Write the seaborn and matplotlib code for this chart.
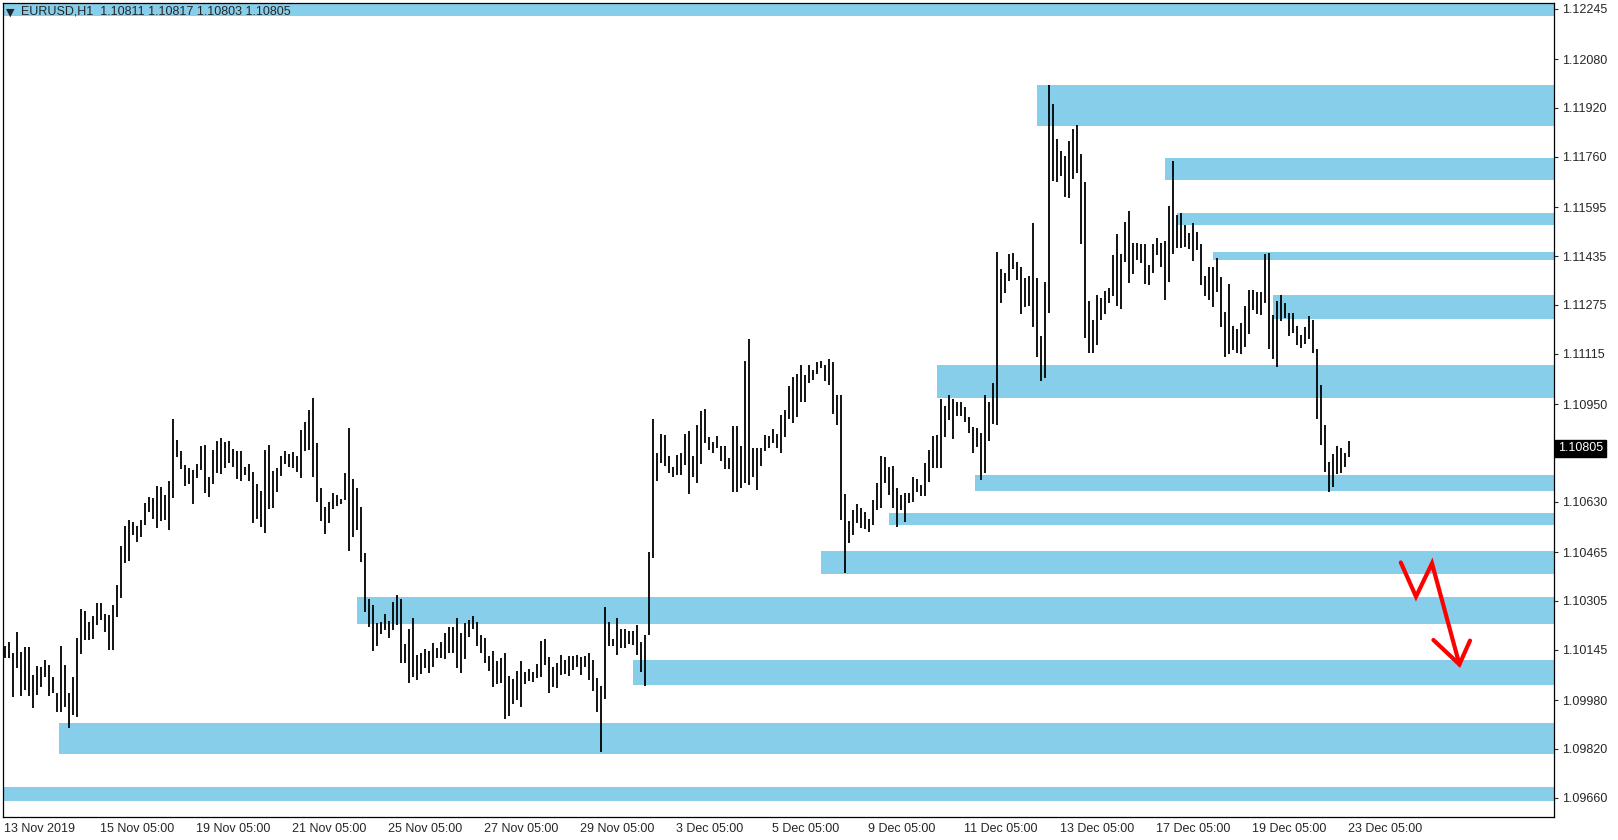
import matplotlib
matplotlib.use("Agg")
import matplotlib.pyplot as plt
import matplotlib.transforms as mtransforms
import seaborn as sns
import pandas as pd

# prices are kept in pips above this level
BASE = 1.09

# 2-hour bars, one row = one trading day (12 bars)
bar_high = [
    115.7, 117.1, 113.3, 120.4, 113.9, 115.5, 115.5, 106.2, 109.3, 108.9, 111.1, 109.5,
    105.7, 100.4, 115.7, 109.5, 100.4, 105.7, 118.4, 127.8, 127.3, 123.7, 125.5, 129.9,
    129.9, 126.2, 125.9, 129.1, 135.7, 148.5, 155.0, 157.0, 156.4, 155.0, 157.0, 162.5,
    164.6, 164.1, 168.1, 167.7, 165.2, 169.8, 190.1, 183.2, 179.6, 175.0, 173.9, 173.4,
    175.2, 181.2, 181.6, 171.0, 179.9, 183.0, 183.8, 182.7, 182.9, 180.3, 179.6, 179.6,
    174.5, 175.3, 172.8, 168.8, 166.6, 179.9, 181.6, 173.1, 173.9, 178.0, 179.6, 178.6,
    179.2, 178.0, 186.5, 189.0, 193.0, 196.9, 182.1, 167.4, 161.2, 162.8, 165.7, 165.2,
    164.0, 172.3, 187.0, 170.6, 167.4, 161.2, 146.1, 131.0, 129.2, 123.2, 123.7, 126.2,
    123.9, 130.1, 132.5, 131.0, 116.4, 121.3, 124.8, 112.8, 113.3, 114.7, 114.1, 116.6,
    115.2, 117.2, 119.9, 121.8, 122.1, 124.9, 119.9, 123.2, 124.2, 125.5, 123.7, 119.3,
    118.2, 112.6, 114.1, 110.9, 111.7, 113.3, 105.9, 104.8, 107.7, 110.9, 107.2, 108.1,
    107.3, 109.8, 117.5, 118.0, 112.2, 108.7, 110.3, 112.8, 111.1, 112.5, 112.4, 112.8,
    112.0, 112.4, 113.5, 111.1, 105.1, 102.6, 128.4, 123.5, 117.9, 125.0, 121.2, 121.3,
    120.6, 120.6, 122.6, 117.1, 119.3, 146.6, 190.1, 179.0, 185.2, 184.8, 178.0, 174.5,
    178.3, 178.8, 185.2, 186.3, 178.0, 188.1, 192.8, 193.4, 184.3, 182.7, 184.5, 181.4,
    181.2, 177.2, 187.8, 187.8, 181.2, 209.1, 216.3, 180.7, 180.5, 180.7, 184.8, 184.6,
    186.7, 185.2, 191.4, 193.0, 200.9, 203.9, 204.8, 207.8, 204.5, 207.8, 206.1, 208.9,
    209.2, 207.8, 209.7, 208.9, 198.0, 198.0, 165.5, 156.7, 160.3, 162.2, 160.8, 159.5,
    157.3, 163.5, 169.0, 178.0, 177.7, 174.5, 174.7, 167.4, 165.2, 165.7, 166.0, 171.0,
    170.3, 168.5, 175.6, 180.0, 184.5, 184.8, 196.5, 194.4, 198.0, 196.5, 195.8, 195.8,
    194.1, 190.8, 187.6, 187.0, 185.4, 198.0, 195.8, 201.8, 244.7, 239.4, 237.8, 244.1,
    244.4, 241.6, 240.0, 236.2, 236.9, 254.2, 236.2, 217.3, 234.9, 299.5, 293.3, 282.0,
    277.9, 276.3, 281.2, 285.0, 286.4, 276.8, 267.6, 228.7, 222.7, 230.7, 229.6, 232.1,
    232.9, 243.8, 250.7, 244.1, 254.5, 258.3, 247.8, 247.8, 247.6, 247.6, 240.5, 247.6,
    249.3, 247.8, 248.5, 259.9, 274.6, 256.9, 257.7, 253.6, 251.1, 254.2, 251.5, 247.4,
    236.9, 240.0, 239.8, 242.7, 236.7, 225.0, 234.3, 220.6, 219.5, 221.4, 227.1, 232.3,
    232.3, 231.8, 231.8, 244.1, 244.4, 224.2, 228.9, 230.7, 228.0, 224.7, 224.9, 220.5,
    217.6, 220.3, 223.8, 222.7, 213.0, 201.2, 188.1, 176.1, 178.6, 181.2, 180.5, 179.1,
    183.0,
]
bar_low = [
    111.7, 111.7, 99.1, 108.4, 99.4, 101.3, 99.4, 95.3, 99.7, 102.2, 105.5, 99.4,
    100.2, 94.0, 94.2, 95.8, 89.0, 93.1, 92.6, 113.1, 117.7, 117.7, 118.0, 122.6,
    124.2, 120.4, 114.4, 114.4, 125.3, 131.5, 143.0, 143.6, 152.1, 149.9, 151.3, 155.4,
    159.7, 157.5, 154.5, 156.8, 157.0, 153.7, 164.1, 177.5, 173.7, 168.1, 168.8, 162.2,
    170.9, 173.4, 165.7, 164.4, 168.7, 172.3, 172.1, 173.9, 175.8, 174.5, 170.3, 169.9,
    171.7, 169.9, 155.9, 157.2, 154.8, 152.9, 160.5, 160.8, 166.3, 171.4, 175.4, 174.3,
    173.9, 172.6, 170.7, 179.7, 179.9, 171.2, 163.0, 156.8, 152.3, 155.9, 160.5, 161.6,
    162.2, 163.6, 147.0, 151.3, 153.7, 143.1, 127.0, 122.1, 114.2, 115.8, 119.7, 121.0,
    118.2, 121.0, 122.6, 110.3, 110.3, 103.5, 105.7, 104.6, 106.6, 108.4, 107.0, 109.0,
    111.7, 111.7, 111.4, 113.3, 113.3, 108.4, 107.0, 111.4, 118.8, 121.2, 115.7, 113.3,
    110.3, 107.5, 102.4, 103.3, 103.5, 91.9, 92.9, 96.7, 98.0, 95.9, 103.3, 104.4,
    104.0, 105.1, 105.5, 109.4, 100.2, 102.4, 101.9, 106.2, 106.6, 105.9, 107.9, 108.9,
    106.2, 108.9, 104.6, 101.0, 94.0, 81.0, 98.3, 115.7, 115.7, 112.8, 115.0, 115.0,
    116.4, 116.0, 112.8, 107.3, 102.7, 119.3, 144.4, 169.8, 175.6, 174.8, 172.5, 171.2,
    171.7, 171.7, 175.0, 165.6, 171.2, 169.0, 175.3, 182.1, 179.9, 179.1, 180.7, 176.4,
    173.6, 173.6, 166.3, 166.3, 167.4, 169.0, 168.5, 171.0, 167.0, 174.8, 179.7, 180.5,
    182.3, 180.5, 179.1, 184.3, 190.1, 188.7, 190.9, 195.8, 195.8, 201.8, 202.9, 205.0,
    206.7, 202.6, 201.2, 191.9, 188.1, 157.0, 139.7, 149.4, 152.1, 155.9, 154.3, 153.9,
    153.2, 155.4, 160.3, 161.1, 169.0, 165.2, 160.8, 154.8, 160.3, 156.5, 162.5, 163.0,
    166.3, 164.9, 164.9, 169.6, 173.9, 173.9, 173.9, 184.3, 189.8, 183.4, 191.1, 191.1,
    189.2, 185.6, 179.1, 181.0, 170.1, 172.5, 183.0, 188.4, 188.1, 228.2, 231.3, 235.4,
    239.4, 235.6, 224.5, 226.7, 227.1, 220.3, 210.3, 202.6, 203.7, 224.9, 268.2, 267.8,
    269.7, 262.9, 262.6, 268.9, 270.8, 247.6, 216.8, 211.8, 211.8, 214.3, 222.7, 224.5,
    228.0, 230.4, 227.1, 226.0, 241.6, 234.8, 237.6, 242.2, 241.1, 234.3, 234.0, 238.0,
    243.8, 240.0, 229.1, 235.1, 244.3, 246.0, 246.0, 246.5, 245.7, 241.9, 245.4, 234.0,
    230.4, 229.1, 226.7, 231.8, 220.1, 210.3, 211.4, 212.7, 211.6, 211.4, 213.8, 218.1,
    225.8, 224.4, 224.2, 228.0, 213.2, 209.9, 207.2, 222.3, 223.1, 217.3, 218.2, 214.3,
    213.5, 214.7, 216.2, 211.6, 190.0, 181.6, 172.8, 166.3, 167.9, 172.1, 172.5, 174.5,
    177.5,
]

# supply / demand zones: start (hours from 13 Nov 00:00), low and high in pips
zone_start = [-1, 516.6, 580.6, 586.6, 604.6, 634.6, 466.6, 485.6, 442.6, 408.6, 176.6, 314.6, 27.6, -1]
zone_low = [322.2, 286.2, 268.5, 253.6, 242.2, 222.8, 197.1, 166.6, 155.4, 139.3, 123.0, 102.9, 80.4, 65.0]
zone_high = [327.0, 299.5, 275.6, 257.7, 244.9, 230.7, 207.8, 171.7, 159.4, 147.0, 131.9, 111.3, 90.6, 69.5]

tick_hours = [0, 48, 96, 144, 192, 240, 288, 336, 384, 432, 480, 528, 576, 624, 672]
tick_labels = ["13 Nov 2019", "15 Nov 05:00", "19 Nov 05:00", "21 Nov 05:00", "25 Nov 05:00",
               "27 Nov 05:00", "29 Nov 05:00", "3 Dec 05:00", "5 Dec 05:00", "9 Dec 05:00",
               "11 Dec 05:00", "13 Dec 05:00", "17 Dec 05:00", "19 Dec 05:00", "23 Dec 05:00"]
price_ticks = [1.12245, 1.12080, 1.11920, 1.11760, 1.11595, 1.11435, 1.11275, 1.11115, 1.10950,
               1.10790, 1.10630, 1.10465, 1.10305, 1.10145, 1.09980, 1.09820, 1.09660]

last_price = 1.10805
header = "EURUSD,H1  1.10811 1.10817 1.10803 1.10805"

# hand drawn red arrow (hours, prices)
arrow_hours = [698.5, 706.1, 714.1, 727.8]
arrow_prices = [1.10431, 1.10319, 1.10428, 1.10097]
head_hours = [714.8, 727.8, 733.1]
head_prices = [1.10177, 1.10097, 1.10175]


def to_price(pips):
    return BASE + pips / 10000


def build_bars():
    n = len(bar_high)
    hours = [2 * i + 0.5 for i in range(n)]
    return pd.DataFrame({
        "bar": list(range(n)) * 2,
        "hour": hours * 2,
        "price": [to_price(v) for v in bar_low] + [to_price(v) for v in bar_high],
    })


def plot_chart(bars):
    fig = plt.figure(figsize=(16.18, 8.4), dpi=100)
    ax = fig.add_axes([2.7 / 1618, 23.3 / 840, 1551.3 / 1618, 814 / 840])

    # zones
    for start, lo, hi in zip(zone_start, zone_low, zone_high):
        ax.barh(to_price((lo + hi) / 2), 900 - start, left=start,
                height=(hi - lo) / 10000, color="#87CEEB", linewidth=0, zorder=1)

    # high-low bars
    sns.lineplot(data=bars, x="hour", y="price", units="bar", estimator=None, sort=False,
                 color="black", linewidth=1.3, solid_capstyle="butt",
                 legend=False, ax=ax, zorder=3)

    # red arrow
    ax.plot(arrow_hours, arrow_prices, color="red", lw=3, solid_joinstyle="miter", zorder=4)
    ax.plot(head_hours, head_prices, color="red", lw=3, solid_joinstyle="miter", zorder=4)

    ax.set_xlim(-0.55, 775.1)
    ax.set_ylim(1.09598, 1.12265)
    ax.set_xlabel("")
    ax.set_ylabel("")

    ax.set_xticks(tick_hours, tick_labels)
    for lab in ax.get_xticklabels():
        lab.set_horizontalalignment("left")
    ax.yaxis.tick_right()
    ax.set_yticks(price_ticks, [f"{p:.5f}" for p in price_ticks])
    ax.tick_params(axis="x", direction="out", length=3, width=0.8, pad=1.5, labelsize=9)
    ax.tick_params(axis="y", direction="out", length=3, width=0.8, pad=2.5, labelsize=9)
    for side in ["left", "right", "top", "bottom"]:
        ax.spines[side].set_color("black")
        ax.spines[side].set_linewidth(0.9)

    # current price tag
    trans = mtransforms.blended_transform_factory(ax.transAxes, ax.transData)
    ax.text(1.0025, last_price, f"{last_price:.5f}", transform=trans, ha="left", va="center",
            color="white", fontsize=9, clip_on=False, zorder=6,
            bbox=dict(boxstyle="square,pad=0.22", fc="black", ec="black"))

    # header
    fig.text(6 / 1618, 1 - 12.5 / 840, "▼", fontsize=8, family=["DejaVu Sans"], va="center")
    fig.text(21 / 1618, 1 - 12 / 840, header, fontsize=9, va="center")

    fig.savefig("out.png", dpi=100)


def main():
    sns.set_style("white")
    plt.rcParams["font.family"] = ["Liberation Sans", "DejaVu Sans"]
    bars = build_bars()
    plot_chart(bars)


if __name__ == "__main__":
    main()
